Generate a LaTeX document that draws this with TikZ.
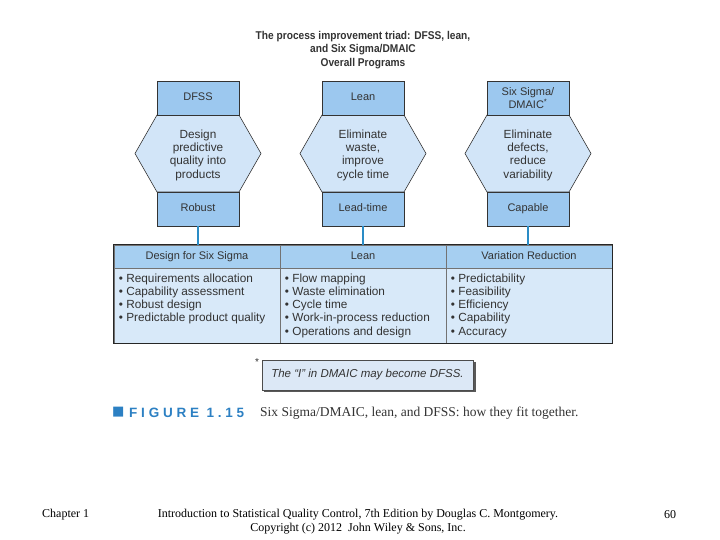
\documentclass[tikz,border=0pt]{standalone}
\usepackage{fontspec}
\usepackage{graphicx}
\setmainfont{Liberation Sans}
\newfontfamily\serffont{Liberation Serif}
\newfontfamily\capfont[LetterSpace=28]{Liberation Sans}
\newfontfamily\djv{DejaVu Sans}
\definecolor{boxblue}{HTML}{9CC8EF}
\definecolor{hexblue}{HTML}{D2E5F8}
\definecolor{hdrblue}{HTML}{A6CFF1}
\definecolor{bodyblue}{HTML}{D8E9F9}
\definecolor{linkblue}{HTML}{2A8CC6}
\definecolor{txt}{HTML}{333333}
\definecolor{capblue}{HTML}{2C80C3}
\definecolor{noteblue}{HTML}{DCE8F6}
\tikzset{
  prog/.style={draw=black!80, line width=0.6pt, fill=boxblue, minimum width=82pt, minimum height=34pt, inner sep=0pt, text=txt, align=center, font=\fontsize{11}{13.3}\selectfont},
  progone/.style={prog, text height=8pt, text depth=2.4pt},
  hexpath/.style={draw=black!80, line width=0.6pt, fill=hexblue},
  hextext/.style={text=txt, align=center, inner sep=0pt, font=\fontsize{11.8}{13.3}\selectfont},
  hdr/.style={draw=black!55, line width=0.5pt, fill=hdrblue, minimum width=166pt, minimum height=23pt, inner sep=0pt, text=txt, text height=8pt, text depth=2.4pt, font=\fontsize{11}{13.3}\selectfont},
  cell/.style={draw=black!55, line width=0.5pt, fill=bodyblue, minimum width=166pt, minimum height=75pt, inner sep=0pt},
  items/.style={text=txt, align=left, inner sep=0pt, anchor=north west, font=\fontsize{11.8}{13.3}\selectfont},
  link/.style={draw=linkblue, line width=1.8pt},
}
\begin{document}
\begin{tikzpicture}[x=1pt,y=-1pt]
\useasboundingbox (0,0) rectangle (720,540);
\fill[white] (0,0) rectangle (720,540);
% title
\node[text=txt, inner sep=0pt] (title) at (363,50) {\scalebox{0.9}[1]{\bfseries\fontsize{11.3}{13.6}\selectfont\begin{tabular}{@{}c@{}}The process improvement triad: DFSS, lean,\\ and Six Sigma/DMAIC\\ Overall Programs\end{tabular}}};
% hexagons
\foreach \cx in {198,363,528}{
  \draw[hexpath] (\cx-63,153.5) -- (\cx-41,115) -- (\cx+41,115) -- (\cx+63,153.5) -- (\cx+41,192) -- (\cx-41,192) -- cycle;
}
\node[hextext] (h1) at (198,155) {Design\\predictive\\quality into\\products};
\node[hextext] (h2) at (363,155) {Eliminate\\waste,\\improve\\cycle time};
\node[hextext] (h3) at (528,155) {Eliminate\\defects,\\reduce\\variability};
% top boxes
\node[progone] (t1) at (198,98) {DFSS};
\node[progone] (t2) at (363,98) {Lean};
\node[prog] (t3) at (528,98) {Six Sigma/\\DMAIC\textsuperscript{*}};
% bottom boxes
\node[progone] (b1) at (198,209) {Robust};
\node[progone] (b2) at (363,209) {Lead-time};
\node[progone] (b3) at (528,209) {Capable};
% table
\node[hdr] (c1) at (197,256.5) {Design for Six Sigma};
\node[hdr] (c2) at (363,256.5) {Lean};
\node[hdr] (c3) at (529,256.5) {Variation Reduction};
\node[cell] (d1) at (197,305.5) {};
\node[cell] (d2) at (363,305.5) {};
\node[cell] (d3) at (529,305.5) {};
\draw[black!85, line width=0.8pt] (c1.north west) rectangle (d3.south east);
\node[items] (l1) at ([xshift=5pt,yshift=-5.5pt]d1.north west) {\textbullet\ Requirements allocation\\\textbullet\ Capability assessment\\\textbullet\ Robust design\\\textbullet\ Predictable product quality};
\node[items] (l2) at ([xshift=5pt,yshift=-5.5pt]d2.north west) {\textbullet\ Flow mapping\\\textbullet\ Waste elimination\\\textbullet\ Cycle time\\\textbullet\ Work-in-process reduction\\\textbullet\ Operations and design};
\node[items] (l3) at ([xshift=5pt,yshift=-5.5pt]d3.north west) {\textbullet\ Predictability\\\textbullet\ Feasibility\\\textbullet\ Efficiency\\\textbullet\ Capability\\\textbullet\ Accuracy};
% connectors
\draw[link] (b1.south) -- (b1.south |- c1.north);
\draw[link] (b2.south) -- (c2.north);
\draw[link] (b3.south) -- (b3.south |- c3.north);
% footnote
\fill[black!65] (264,362) rectangle (476,392);
\node[draw=black!70, line width=0.5pt, fill=noteblue, minimum width=211pt, minimum height=30pt, inner sep=0pt, text=txt, font=\fontsize{11.5}{13}\selectfont\itshape] (note) at (367.5,375) {The \char"201CI\char"201D{} in DMAIC may become DFSS.};
\node[text=txt, inner sep=0pt, font=\fontsize{10}{12}\selectfont] (star) at (257,362) {*};
% caption
\node[text=capblue, inner sep=0pt, anchor=west, font=\djv\fontsize{13}{15}\selectfont] (sq) at (112,412.5) {■};
\node[text=capblue, inner sep=0pt, anchor=west, font=\capfont\bfseries\fontsize{13.5}{15}\selectfont] (fig) at (129,412.5) {FIGURE 1.15};
\node[text=txt, inner sep=0pt, anchor=west, font=\serffont\fontsize{13.5}{15}\selectfont] (cap) at (260,413) {Six Sigma/DMAIC, lean, and DFSS: how they fit together.};
% footer
\node[inner sep=0pt, anchor=west, font=\serffont\fontsize{12}{14}\selectfont] (chap) at (42,515) {Chapter 1};
\node[inner sep=0pt, align=center, font=\serffont\fontsize{12}{14}\selectfont] (foot) at (358,522) {Introduction to Statistical Quality Control, 7th Edition by Douglas C. Montgomery.\\Copyright (c) 2012\ \ John Wiley \& Sons, Inc.};
\node[inner sep=0pt, font=\serffont\fontsize{12}{14}\selectfont] (page) at (670,515) {60};
\end{tikzpicture}
\end{document}
